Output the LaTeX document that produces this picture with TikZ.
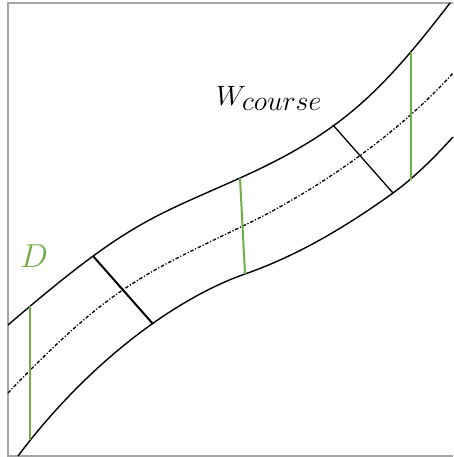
\documentclass[tikz,border=0pt]{standalone}
\usepackage{graphicx}
\usepackage{tikz}
\usetikzlibrary{positioning}
\definecolor{gaugegreen}{RGB}{112,173,71}

\begin{document}
\begin{tikzpicture}[x=1pt, y=-1pt,
  bank/.style={line width=1.4pt, black},
  axis/.style={line width=1.3pt, black, dash pattern=on 3.5pt off 1.8pt on 1.2pt off 1.8pt},
  gauge/.style={line width=2pt, gaugegreen},
  cross/.style={line width=1.3pt, black}]
\useasboundingbox (0,0) rectangle (453,457);

% Frame
\draw[gray!70, line width=1.2pt] (453,3) -- (8,3) -- (8,456) -- (453,456);

% Channel banks
\draw[bank] (8,325) .. controls (128,221.8) and (150,218.5) .. (240,178)
  .. controls (340,133) and (380,94) .. (450,3);
\draw[bank] (18,456) .. controls (88,362.9) and (175,298.5) .. (245,274)
  .. controls (295,256.5) and (343,229) .. (393,193)
  .. controls (413,178.6) and (433,159) .. (453,137);

% Centre line
\draw[axis] (8,393) .. controls (108,288) and (143,274) .. (243,226)
  .. controls (323,187.6) and (403,129) .. (453,73);

% End points on the banks
\coordinate (d1top) at (30,306);
\coordinate (d1bot) at (30,440);
\coordinate (d2top) at (240,178);
\coordinate (d2bot) at (245,274);
\coordinate (d3top) at (411,52);
\coordinate (d3bot) at (411,180);
\coordinate (w1top) at (93,256);
\coordinate (w1bot) at (153,324);
\coordinate (w2top) at (333,125);
\coordinate (w2bot) at (393,193);

% Vertical depths
\draw[gauge] (d1top) -- (d1bot);
\draw[gauge] (d2top) -- (d2bot);
\draw[gauge] (d3top) -- (d3bot);

% Course widths
\draw[cross, line width=2pt] (w1top) -- (w1bot);
\draw[cross] (w2top) -- (w2bot);

% Labels
\node[anchor=base west, inner sep=0pt, text=gaugegreen, font=\huge] (dlabel) at (20,267) {\scalebox{1.6}{$D$}};
\node[anchor=base west, inner sep=0pt, font=\huge] (wlabel) at (216,106) {\scalebox{1.35}{$W_{\textstyle course}$}};
\end{tikzpicture}
\end{document}
